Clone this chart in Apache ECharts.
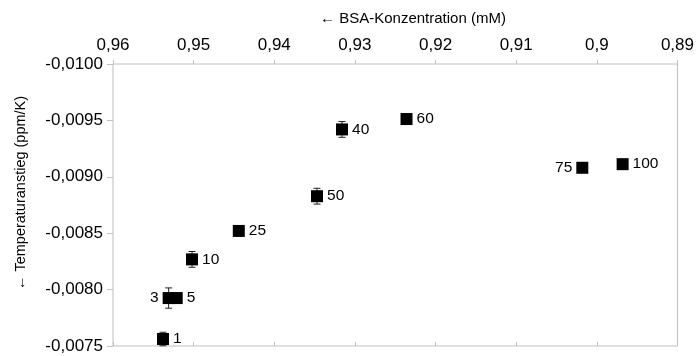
<!DOCTYPE html>
<html><head><meta charset="utf-8">
<script src="https://cdn.jsdelivr.net/npm/echarts@6/dist/echarts.min.js"></script>
<style>html,body{margin:0;padding:0;background:#fff}#c{width:697px;height:356px}</style>
</head><body><div id="c"></div>
<script>
const labels = ['1','3','5','10','25','40','50','60','75','100'];
const bsa = [0.9538, 0.9531, 0.9521, 0.9502, 0.9444, 0.9316, 0.9347, 0.9236, 0.9018, 0.8968];
const temp = [-0.007562, -0.007925, -0.007925, -0.008268, -0.008520, -0.009420, -0.008828, -0.009512, -0.009080, -0.009112];
const err = [0.00006, 0.00009, 0.00003, 0.00007, 0.00003, 0.00007, 0.00007, 0, 0, 0];
const labelLeft = ['3','75'];
const xTitle = '← BSA-Konzentration (mM)';
const yTitle = '← Temperaturanstieg (ppm/K)';

const FONT = 'Liberation Sans, Arial, sans-serif';
const axisGray = '#bfbfbf';
const pts = labels.map((l,i)=>({name:l, value:[bsa[i], temp[i]],
  label:{position: labelLeft.includes(l)?'left':'right'}}));
const errData = labels.map((l,i)=>[bsa[i], temp[i], err[i]]);

const chart = echarts.init(document.getElementById('c'), null, {renderer:'canvas'});
chart.setOption({
  animation:false,
  grid:{left:113, right:16, top:64, bottom:10, show:true, borderColor:axisGray, borderWidth:1},
  xAxis:[{
    type:'value', position:'top', inverse:true, min:0.89, max:0.96, interval:0.01,
    axisLine:{show:false}, splitLine:{show:false},
    axisTick:{show:true, length:4, lineStyle:{color:axisGray}},
    axisLabel:{margin:10, color:'#000', fontSize:17, fontFamily:FONT,
      formatter:v=>String(Math.round(v*100)/100).replace('.',',')}
  },{
    type:'value', position:'bottom', inverse:true, min:0.89, max:0.96, interval:0.01,
    axisLine:{show:false}, splitLine:{show:false},
    axisTick:{show:true, inside:true, length:4, lineStyle:{color:axisGray}},
    axisLabel:{show:false}
  }],
  yAxis:{
    type:'value', inverse:true, min:-0.01, max:-0.0075, interval:0.0005,
    axisLine:{show:false}, splitLine:{show:false},
    axisTick:{show:true, length:6, lineStyle:{color:axisGray}},
    axisLabel:{margin:10, color:'#000', fontSize:17, fontFamily:FONT,
      formatter:v=>v.toFixed(4).replace('.',',')}
  },
  graphic:[
    {type:'text', x:413, y:19, style:{text:xTitle, align:'center', verticalAlign:'middle', font:'15px '+FONT, fill:'#000'}},
    {type:'text', x:21, y:193, rotation:Math.PI/2, style:{text:yTitle, align:'center', verticalAlign:'middle', font:'14.5px '+FONT, fill:'#000'}}
  ],
  series:[{
    type:'custom', z:1, data:errData,
    renderItem:(params, api)=>{
      const x=api.value(0), y=api.value(1), e=api.value(2);
      if(!e) return null;
      const p1=api.coord([x,y-e]), p2=api.coord([x,y+e]);
      const w=3.5, st={stroke:'#222', lineWidth:1};
      return {type:'group', children:[
        {type:'line', shape:{x1:p1[0],y1:p1[1],x2:p2[0],y2:p2[1]}, style:st},
        {type:'line', shape:{x1:p1[0]-w,y1:p1[1],x2:p1[0]+w,y2:p1[1]}, style:st},
        {type:'line', shape:{x1:p2[0]-w,y1:p2[1],x2:p2[0]+w,y2:p2[1]}, style:st}
      ]};
    }
  },{
    type:'scatter', z:2, symbol:'rect', symbolSize:12, data:pts,
    itemStyle:{color:'#000', opacity:1},
    label:{show:true, formatter:'{b}', distance:4, color:'#000', fontSize:15.5, fontFamily:FONT}
  }]
});
</script></body></html>
